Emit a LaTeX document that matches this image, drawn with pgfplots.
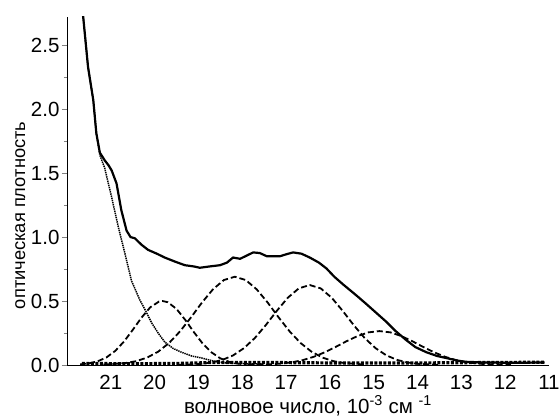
\documentclass[border=0pt]{standalone}
\usepackage{fontspec}
\setmainfont{Liberation Sans}
\usepackage{pgfplots}
\pgfplotsset{compat=1.18}
\begin{document}
\begin{tikzpicture}
\begin{axis}[
  scale only axis,
  width=482pt, height=348pt,
  x dir=reverse,
  xmin=11, xmax=22,
  ymin=0, ymax=2.72,
  axis x line*=bottom,
  axis y line*=left,
  axis line style={-, line width=0.9pt},
  xtick={21,20,19,18,17,16,15,14,13,12,11},
  ytick={0,0.5,1,1.5,2,2.5},
  minor y tick num=1,
  tick align=outside,
  major tick length=5pt,
  minor tick length=3pt,
  xtick style={draw=none},
  ytick style={line width=0.8pt},
  /pgf/number format/assume math mode=true,
  yticklabel style={/pgf/number format/.cd, fixed, fixed zerofill, precision=1, /tikz/.cd, font=\fontsize{20.5}{22}\selectfont, xshift=1pt},
  xticklabel style={font=\fontsize{20.5}{22}\selectfont, yshift=-2pt},
  xlabel={волновое число, 10\textsuperscript{-3} см \textsuperscript{-1}},
  ylabel={оптическая плотность},
  every axis x label/.style={font=\fontsize{20.5}{22}\selectfont, at={(axis description cs:0.5,-0.138)}, anchor=base},
  every axis y label/.style={font=\fontsize{18.3}{20}\selectfont, at={(axis description cs:-0.087,0.43)}, rotate=90, anchor=base},
  clip mode=individual,
]
% background (fine dotted)
\addplot[black, line width=1.5pt, dash pattern=on 1.4pt off 0.8pt] coordinates {
(21.68,2.85) (21.63,2.72) (21.52,2.33) (21.40,2.07) (21.33,1.81) (21.25,1.64)
(21.14,1.54) (20.98,1.31) (20.83,1.08) (20.68,0.875) (20.53,0.66) (20.34,0.51)
(20.20,0.42) (20.07,0.33) (19.92,0.25) (19.77,0.18) (19.58,0.13) (19.39,0.10)
(19.15,0.07) (18.93,0.055) (18.65,0.03) (18.40,0.016) (18.0,0.01) (17.5,0.008)
};
% Gaussian 1
\addplot[black, line width=1.8pt, dash pattern=on 6pt off 3pt] coordinates {
(21.7,0.005) (21.5,0.013) (21.3,0.029) (21.1,0.059) (20.9,0.110) (20.7,0.183)
(20.5,0.274) (20.3,0.370) (20.1,0.451) (19.9,0.496) (19.82,0.500) (19.7,0.491)
(19.5,0.438) (19.3,0.352) (19.1,0.255) (18.9,0.166) (18.7,0.098) (18.5,0.052)
(18.3,0.025) (18.1,0.011) (17.9,0.004)
};
% Gaussian 2
\addplot[black, line width=1.8pt, dash pattern=on 6pt off 3pt] coordinates {
(21.17,0.003) (20.67,0.015) (20.42,0.030) (20.17,0.058) (19.92,0.104) (19.67,0.172)
(19.42,0.263) (19.17,0.372) (18.92,0.488) (18.67,0.591) (18.42,0.664) (18.17,0.690)
(17.92,0.664) (17.67,0.591) (17.42,0.488) (17.17,0.372) (16.92,0.263) (16.67,0.172)
(16.42,0.104) (16.17,0.058) (15.92,0.030) (15.67,0.015) (15.17,0.003)
};
% Gaussian 3
\addplot[black, line width=1.8pt, dash pattern=on 6pt off 3pt] coordinates {
(19.46,0.001) (18.96,0.008) (18.71,0.019) (18.46,0.039) (18.21,0.075) (17.96,0.132)
(17.71,0.212) (17.46,0.313) (17.21,0.424) (16.96,0.526) (16.71,0.599) (16.46,0.625)
(16.21,0.599) (15.96,0.526) (15.71,0.424) (15.46,0.313) (15.21,0.212) (14.96,0.132)
(14.71,0.075) (14.46,0.039) (14.21,0.019) (13.96,0.008) (13.46,0.001)
};
% Gaussian 4
\addplot[black, line width=1.8pt, dash pattern=on 6pt off 3pt] coordinates {
(17.87,0.001) (17.37,0.005) (17.12,0.011) (16.87,0.021) (16.62,0.038) (16.37,0.064)
(16.12,0.099) (15.87,0.141) (15.62,0.186) (15.37,0.226) (15.12,0.255) (14.87,0.265)
(14.62,0.255) (14.37,0.226) (14.12,0.186) (13.87,0.141) (13.62,0.099) (13.37,0.064)
(13.12,0.038) (12.87,0.021) (12.62,0.011) (12.37,0.005) (11.87,0.001)
};
% baseline (thick dotted)
\addplot[black, line width=3.2pt, dash pattern=on 3pt off 1.5pt] coordinates {
(21.66,0.012) (20.5,0.010) (19.5,0.012) (18.6,0.020) (17.5,0.020) (16.0,0.016)
(15.0,0.015) (14.0,0.016) (13.0,0.018) (12.0,0.020) (11.1,0.022)
};
% total spectrum (solid)
\addplot[black, line width=2.2pt] coordinates {
(21.68,2.85) (21.63,2.72) (21.52,2.33) (21.40,2.07) (21.33,1.81) (21.25,1.66)
(21.14,1.60) (21.05,1.56) (20.98,1.52) (20.87,1.42) (20.76,1.21) (20.64,1.05)
(20.55,1.00) (20.45,0.99) (20.30,0.94) (20.15,0.90) (19.95,0.87) (19.77,0.84)
(19.55,0.81) (19.31,0.78) (19.10,0.77) (18.97,0.76) (18.75,0.77) (18.51,0.78)
(18.35,0.80) (18.21,0.84) (18.05,0.83) (17.90,0.855) (17.75,0.88) (17.60,0.875)
(17.44,0.85) (17.30,0.85) (17.14,0.85) (17.00,0.865) (16.84,0.88) (16.65,0.87)
(16.46,0.84) (16.25,0.80) (16.08,0.755) (15.90,0.69) (15.70,0.63) (15.40,0.545)
(15.18,0.48) (14.95,0.41) (14.72,0.34) (14.50,0.265) (14.26,0.195) (14.05,0.14)
(13.80,0.10) (13.55,0.07) (13.35,0.055) (13.10,0.035) (12.90,0.025) (12.50,0.02)
(12.0,0.018) (11.5,0.018) (11.1,0.02)
};
\end{axis}
\pgfresetboundingbox
\path ([shift={(-67pt,-52pt)}]current axis.south west) rectangle ([shift={(10pt,17pt)}]current axis.north east);
\end{tikzpicture}
\end{document}
